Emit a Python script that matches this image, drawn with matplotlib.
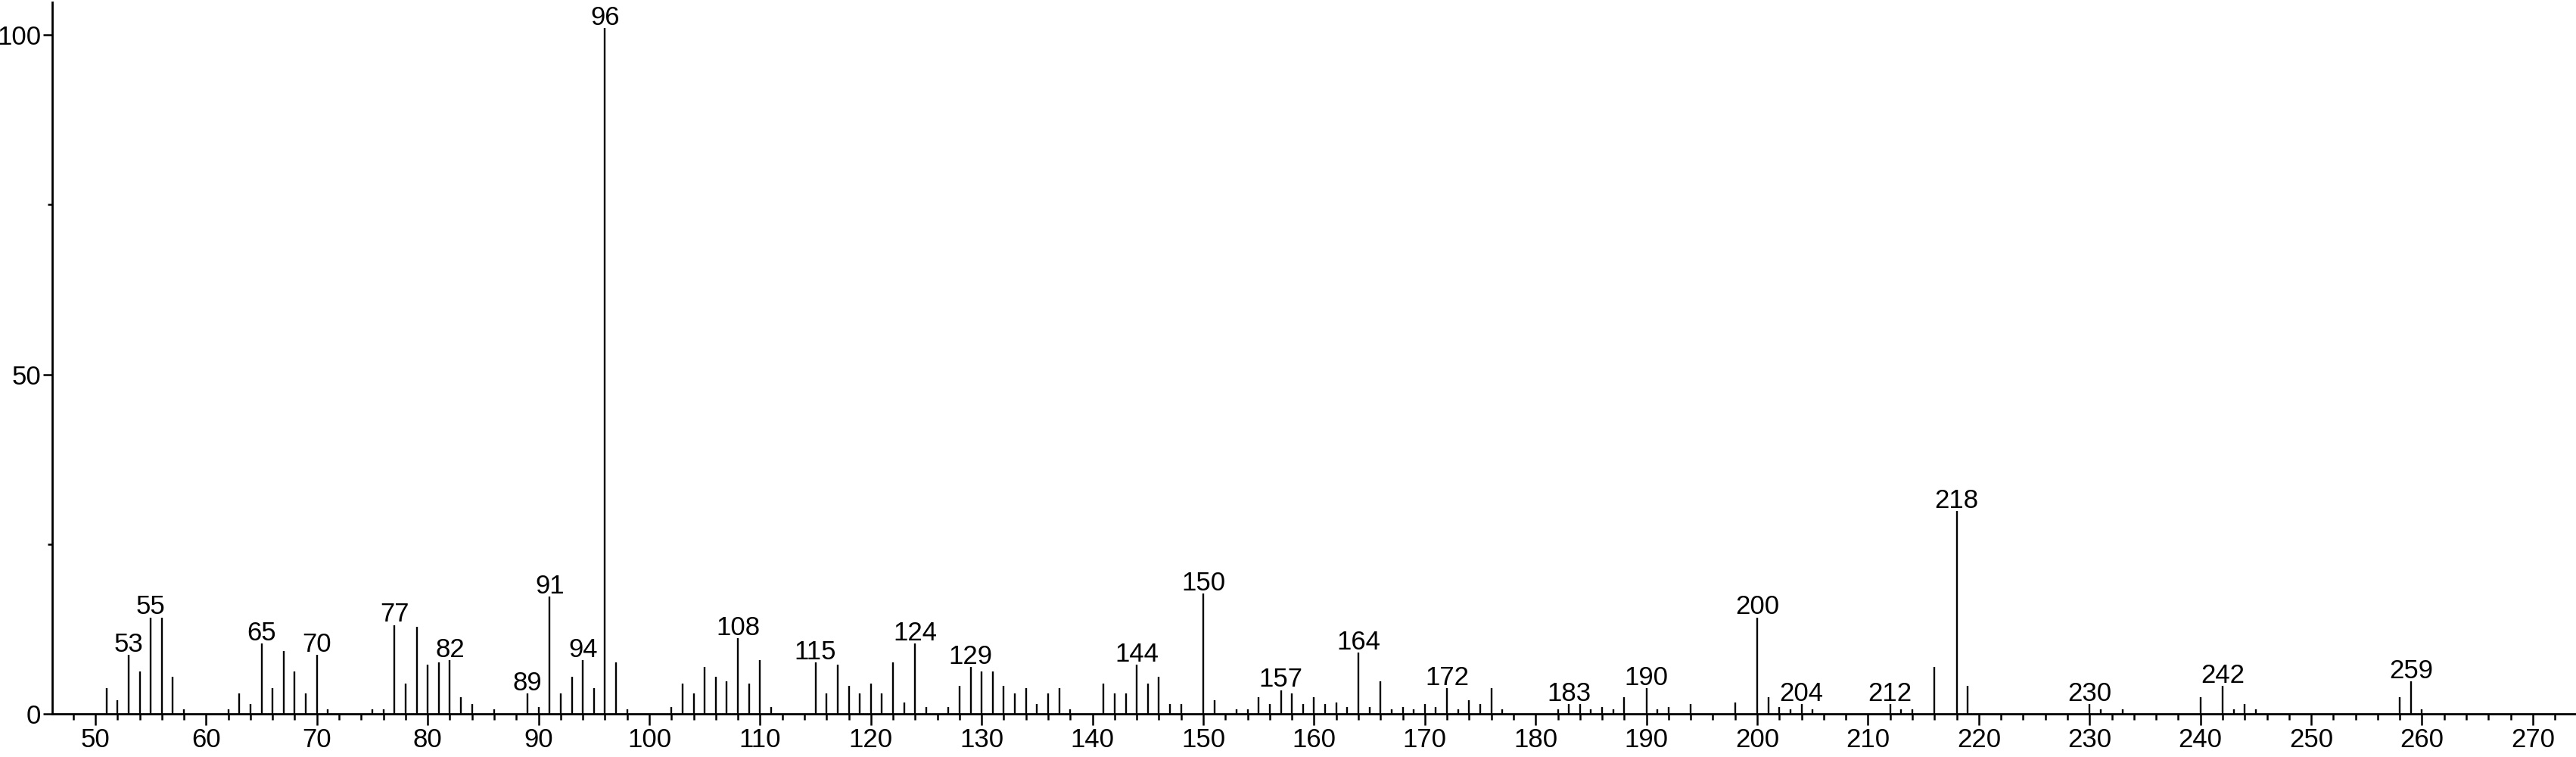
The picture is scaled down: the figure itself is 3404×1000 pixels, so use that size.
import numpy as np
import matplotlib
matplotlib.use("Agg")
import matplotlib.pyplot as plt
from matplotlib.ticker import MultipleLocator

# m/z and relative intensity
mz = [51, 52, 53, 54, 55, 56, 57, 58, 62, 63, 64, 65, 66, 67, 68, 69, 70, 71,
      75, 76, 77, 78, 79, 80, 81, 82, 83, 84, 86, 89, 90, 91, 92, 93, 94, 95,
      96, 97, 98, 102, 103, 104, 105, 106, 107, 108, 109, 110, 111, 115, 116,
      117, 118, 119, 120, 121, 122, 123, 124, 125, 127, 128, 129, 130, 131,
      132, 133, 134, 135, 136, 137, 138, 141, 142, 143, 144, 145, 146, 147,
      148, 150, 151, 153, 154, 155, 156, 157, 158, 159, 160, 161, 162, 163,
      164, 165, 166, 167, 168, 169, 170, 171, 172, 173, 174, 175, 176, 177,
      182, 183, 184, 185, 186, 187, 188, 190, 191, 192, 194, 198, 200, 201,
      202, 203, 204, 205, 212, 213, 214, 216, 218, 219, 230, 231, 233, 240,
      242, 243, 244, 245, 258, 259, 260]
intensity = [3.8, 2.0, 8.65, 6.2, 14.2, 14.2, 5.5, 0.7, 0.7, 3.0, 1.4, 10.4,
             3.8, 9.3, 6.2, 3.0, 8.65, 0.7, 0.7, 0.7, 13.1, 4.5, 12.8, 7.2,
             7.6, 7.9, 2.4, 1.4, 0.7, 3.0, 1.0, 17.3, 3.0, 5.5, 7.9, 3.8,
             101.0, 7.6, 0.7, 1.0, 4.5, 3.0, 6.9, 5.5, 4.8, 11.1, 4.5, 7.9,
             1.0, 7.6, 3.0, 7.2, 4.1, 3.0, 4.5, 3.0, 7.6, 1.7, 10.4, 1.0,
             1.0, 4.1, 6.9, 6.2, 6.2, 4.1, 3.0, 3.8, 1.4, 3.0, 3.8, 0.7,
             4.5, 3.0, 3.0, 7.2, 4.5, 5.5, 1.4, 1.4, 17.7, 2.0, 0.7, 0.7,
             2.4, 1.4, 3.5, 3.0, 1.4, 2.4, 1.4, 1.7, 1.0, 9.0, 1.0, 4.8,
             0.7, 1.0, 0.7, 1.4, 1.0, 3.8, 0.7, 2.0, 1.4, 3.8, 0.7, 0.7,
             1.4, 1.4, 0.7, 1.0, 0.7, 2.4, 3.8, 0.7, 1.0, 1.4, 1.7, 14.2,
             2.4, 1.0, 0.7, 1.4, 0.7, 1.4, 0.7, 0.7, 6.9, 29.9, 4.1, 1.4,
             0.7, 0.7, 2.4, 4.1, 0.7, 1.4, 0.7, 2.4, 4.8, 0.7]

labeled = [53, 55, 65, 70, 77, 82, 89, 91, 94, 96, 108, 115, 124, 129, 144,
           150, 157, 164, 172, 183, 190, 200, 204, 212, 218, 230, 242, 259]

plt.rcParams['font.family'] = ['Liberation Sans', 'DejaVu Sans']

fig = plt.figure(figsize=(34.04, 10), dpi=100)
ax = fig.add_axes([69 / 3404, 0.057, 1 - 69 / 3404, 0.94])

ax.vlines(mz, 0, intensity, colors='black', linewidth=1.7)

lookup = dict(zip(mz, intensity))
for m in labeled:
    ax.annotate(str(m), (m, lookup[m]), xytext=(0, 3), textcoords='offset points',
                ha='center', va='baseline', fontsize=25, annotation_clip=False)

ax.set_xlim(46.11, 273.9)
ax.set_ylim(0, 104.8)

ax.spines['top'].set_visible(False)
ax.spines['right'].set_visible(False)
ax.spines['left'].set_linewidth(2)
ax.spines['bottom'].set_linewidth(2)

ax.xaxis.set_major_locator(MultipleLocator(10))
ax.xaxis.set_minor_locator(MultipleLocator(2))
ax.yaxis.set_major_locator(MultipleLocator(50))
ax.yaxis.set_minor_locator(MultipleLocator(25))

ax.tick_params(axis='x', which='major', length=11, width=1.8, pad=2, labelsize=25)
ax.tick_params(axis='x', which='minor', length=6, width=1.8)
ax.tick_params(axis='y', which='major', length=8.5, width=1.8, pad=2, labelsize=25)
ax.tick_params(axis='y', which='minor', length=4.5, width=1.8)

fig.savefig('out.png', dpi=100)
